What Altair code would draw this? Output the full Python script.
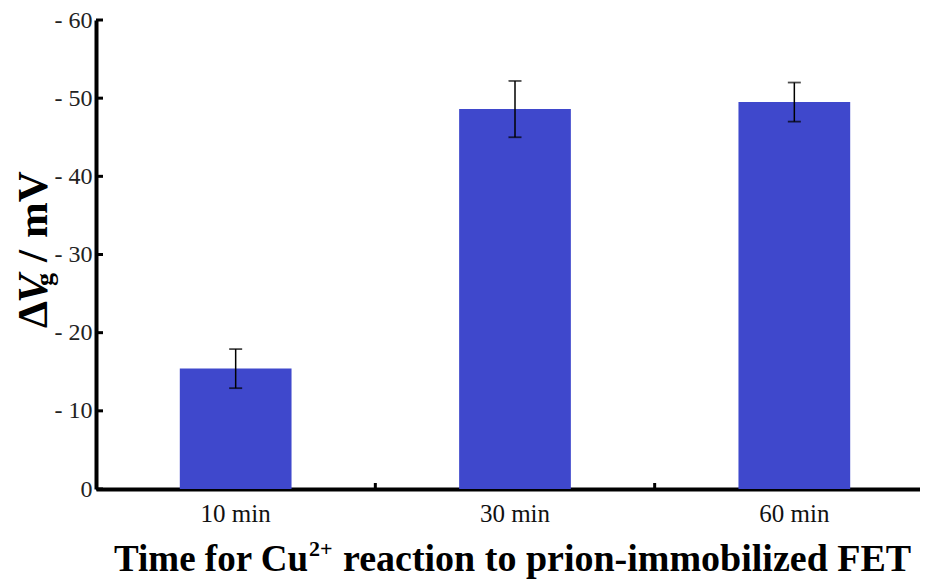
import altair as alt
import pandas as pd

categories = ["10 min", "30 min", "60 min"]
means = [-15.4, -48.6, -49.5]
errors = [2.5, 3.6, 2.5]
y_ticks = [0, -10, -20, -30, -40, -50, -60]
x_tick_cats = ["30 min", "60 min"]

FONT = "Liberation Serif"
W, H = 824, 469

df = pd.DataFrame({"cat": categories, "mean": means, "err": errors})
df["lo"] = df["mean"] + df["err"]
df["hi"] = df["mean"] - df["err"]

x_scale = alt.Scale(domain=categories, range=[0, 838], paddingInner=0, paddingOuter=0)
y_scale = alt.Scale(domain=[0, -60], nice=False)

X_AX = alt.Axis(title=None, labelFont=FONT, labelFontSize=25, labelColor="#111",
                labelPadding=12, ticks=False, domainWidth=4, domainColor="black",
                labelAngle=0, grid=False)
Y_AX = alt.Axis(values=y_ticks, title=None, ticks=False, grid=False,
                labelExpr="datum.value == 0 ? '0' : '- ' + abs(datum.value)",
                labelFont=FONT, labelFontSize=24, labelColor="#222",
                labelPadding=4, domainWidth=4, domainColor="black")


def X(field="cat:N", **kw):
    return alt.X(field, scale=x_scale, sort=categories, axis=X_AX, **kw)


def Y(field):
    return alt.Y(field, scale=y_scale, axis=Y_AX)


base = alt.Chart(df)

bars = base.mark_bar(color="#3F48CC", width=alt.RelativeBandSize(0.4)).encode(
    x=X(), y=Y("mean:Q"),
)

err_rule = base.mark_rule(color="black", strokeWidth=1.5).encode(
    x=X(), y=Y("lo:Q"), y2="hi:Q",
)
cap_lo = base.mark_tick(color="black", thickness=1.8, size=13).encode(x=X(), y=Y("lo:Q"))
cap_hi = base.mark_tick(color="black", thickness=1.8, size=13).encode(x=X(), y=Y("hi:Q"))

xticks = alt.Chart(pd.DataFrame({"cat": x_tick_cats})).mark_rule(color="black", strokeWidth=3).encode(
    x=X(bandPosition=0),
    y=alt.value(H),
    y2=alt.value(H - 6),
)
yticks = alt.Chart(pd.DataFrame({"yt": y_ticks})).mark_rule(color="black", strokeWidth=3).encode(
    y=Y("yt:Q"),
    x=alt.value(0),
    x2=alt.value(7),
)


def label(text, x, y, size, align="left", angle=0, style="normal"):
    return alt.Chart(pd.DataFrame({"t": [text]})).mark_text(
        font=FONT, fontSize=size, fontWeight="bold", fontStyle=style, color="black",
        align=align, baseline="alphabetic", angle=angle,
    ).encode(text="t:N", x=alt.value(x), y=alt.value(y))


xt1 = label("Time for Cu", 212, 551, 37, align="right")
xt2 = label("2+", 213, 536, 22)
xt3 = label("reaction to prion-immobilized FET", 247, 551, 38)

yt1 = label("Δ", -49, 308, 43, angle=270)
yt2 = label("V", -49, 283, 43, angle=270, style="italic")
yt3 = label("g", -43, 266, 26, angle=270)
yt4 = label("/", -49, 242, 43, angle=270)
yt5 = label("mV", -49, 218, 43, angle=270)

chart = alt.layer(
    bars, err_rule, cap_lo, cap_hi, xticks, yticks,
    xt1, xt2, xt3, yt1, yt2, yt3, yt4, yt5,
).properties(
    width=W, height=H,
    padding={"left": 88, "top": 12, "right": 0, "bottom": 92},
    autosize=alt.AutoSizeParams(type="none"),
).configure(background="white").configure_view(stroke=None)

chart.save("out.html", embed_options={"renderer": "svg", "actions": False})
